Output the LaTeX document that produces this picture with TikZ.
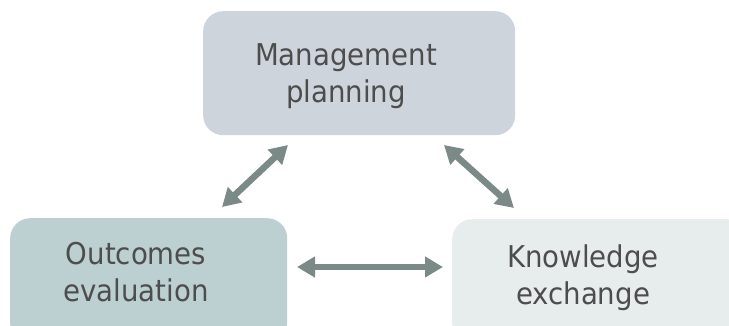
\documentclass[tikz,border=0pt]{standalone}
\usepackage{fontspec}
\setmainfont[FakeStretch=0.92]{DejaVu Sans}
\usetikzlibrary{arrows.meta}

\definecolor{planfill}{HTML}{CDD4DB}
\definecolor{evalfill}{HTML}{BCCFD1}
\definecolor{exchfill}{HTML}{E7EDED}
\definecolor{linkgray}{HTML}{7C8A87}
\definecolor{textgray}{HTML}{4D4D4D}

\tikzset{
  box/.style={rectangle, rounded corners=20pt, inner sep=0pt, anchor=north west},
  lbl/.style={text=textgray, align=center, inner sep=0pt, font=\fontsize{30}{37}\selectfont},
  link/.style={{Triangle[length=18pt,width=20pt]}-{Triangle[length=18pt,width=20pt]},
    line width=6.5pt, draw=linkgray}
}

\begin{document}
\begin{tikzpicture}[x=1pt,y=-1pt]
  \useasboundingbox (0,0) rectangle (729,325);
  \clip (0,0) rectangle (729,325);
  % the three boxes
  \node[box, fill=planfill, minimum width=312, minimum height=124] (plan) at (203,11) {};
  \node[box, fill=evalfill, minimum width=277, minimum height=125] (eval) at (10,218) {};
  \node[box, fill=exchfill, minimum width=295, minimum height=125] (exch) at (452,219) {};
  \node[lbl] (plantext) at (346,76) {Management\\planning};
  \node[lbl] (evaltext) at (136,272.5) {Outcomes\\evaluation};
  \node[lbl] (exchtext) at (583,277.6) {Knowledge\\exchange};
  % arrow ends
  \coordinate (pe1) at (222,207);
  \coordinate (pe2) at (288,145);
  \coordinate (px1) at (444,145);
  \coordinate (px2) at (514,208);
  \coordinate (ex1) at (297,267);
  \coordinate (ex2) at (443,267);
  \draw[link] (pe1) -- (pe2);
  \draw[link] (px1) -- (px2);
  \draw[link] (ex1) -- (ex2);
\end{tikzpicture}
\end{document}
